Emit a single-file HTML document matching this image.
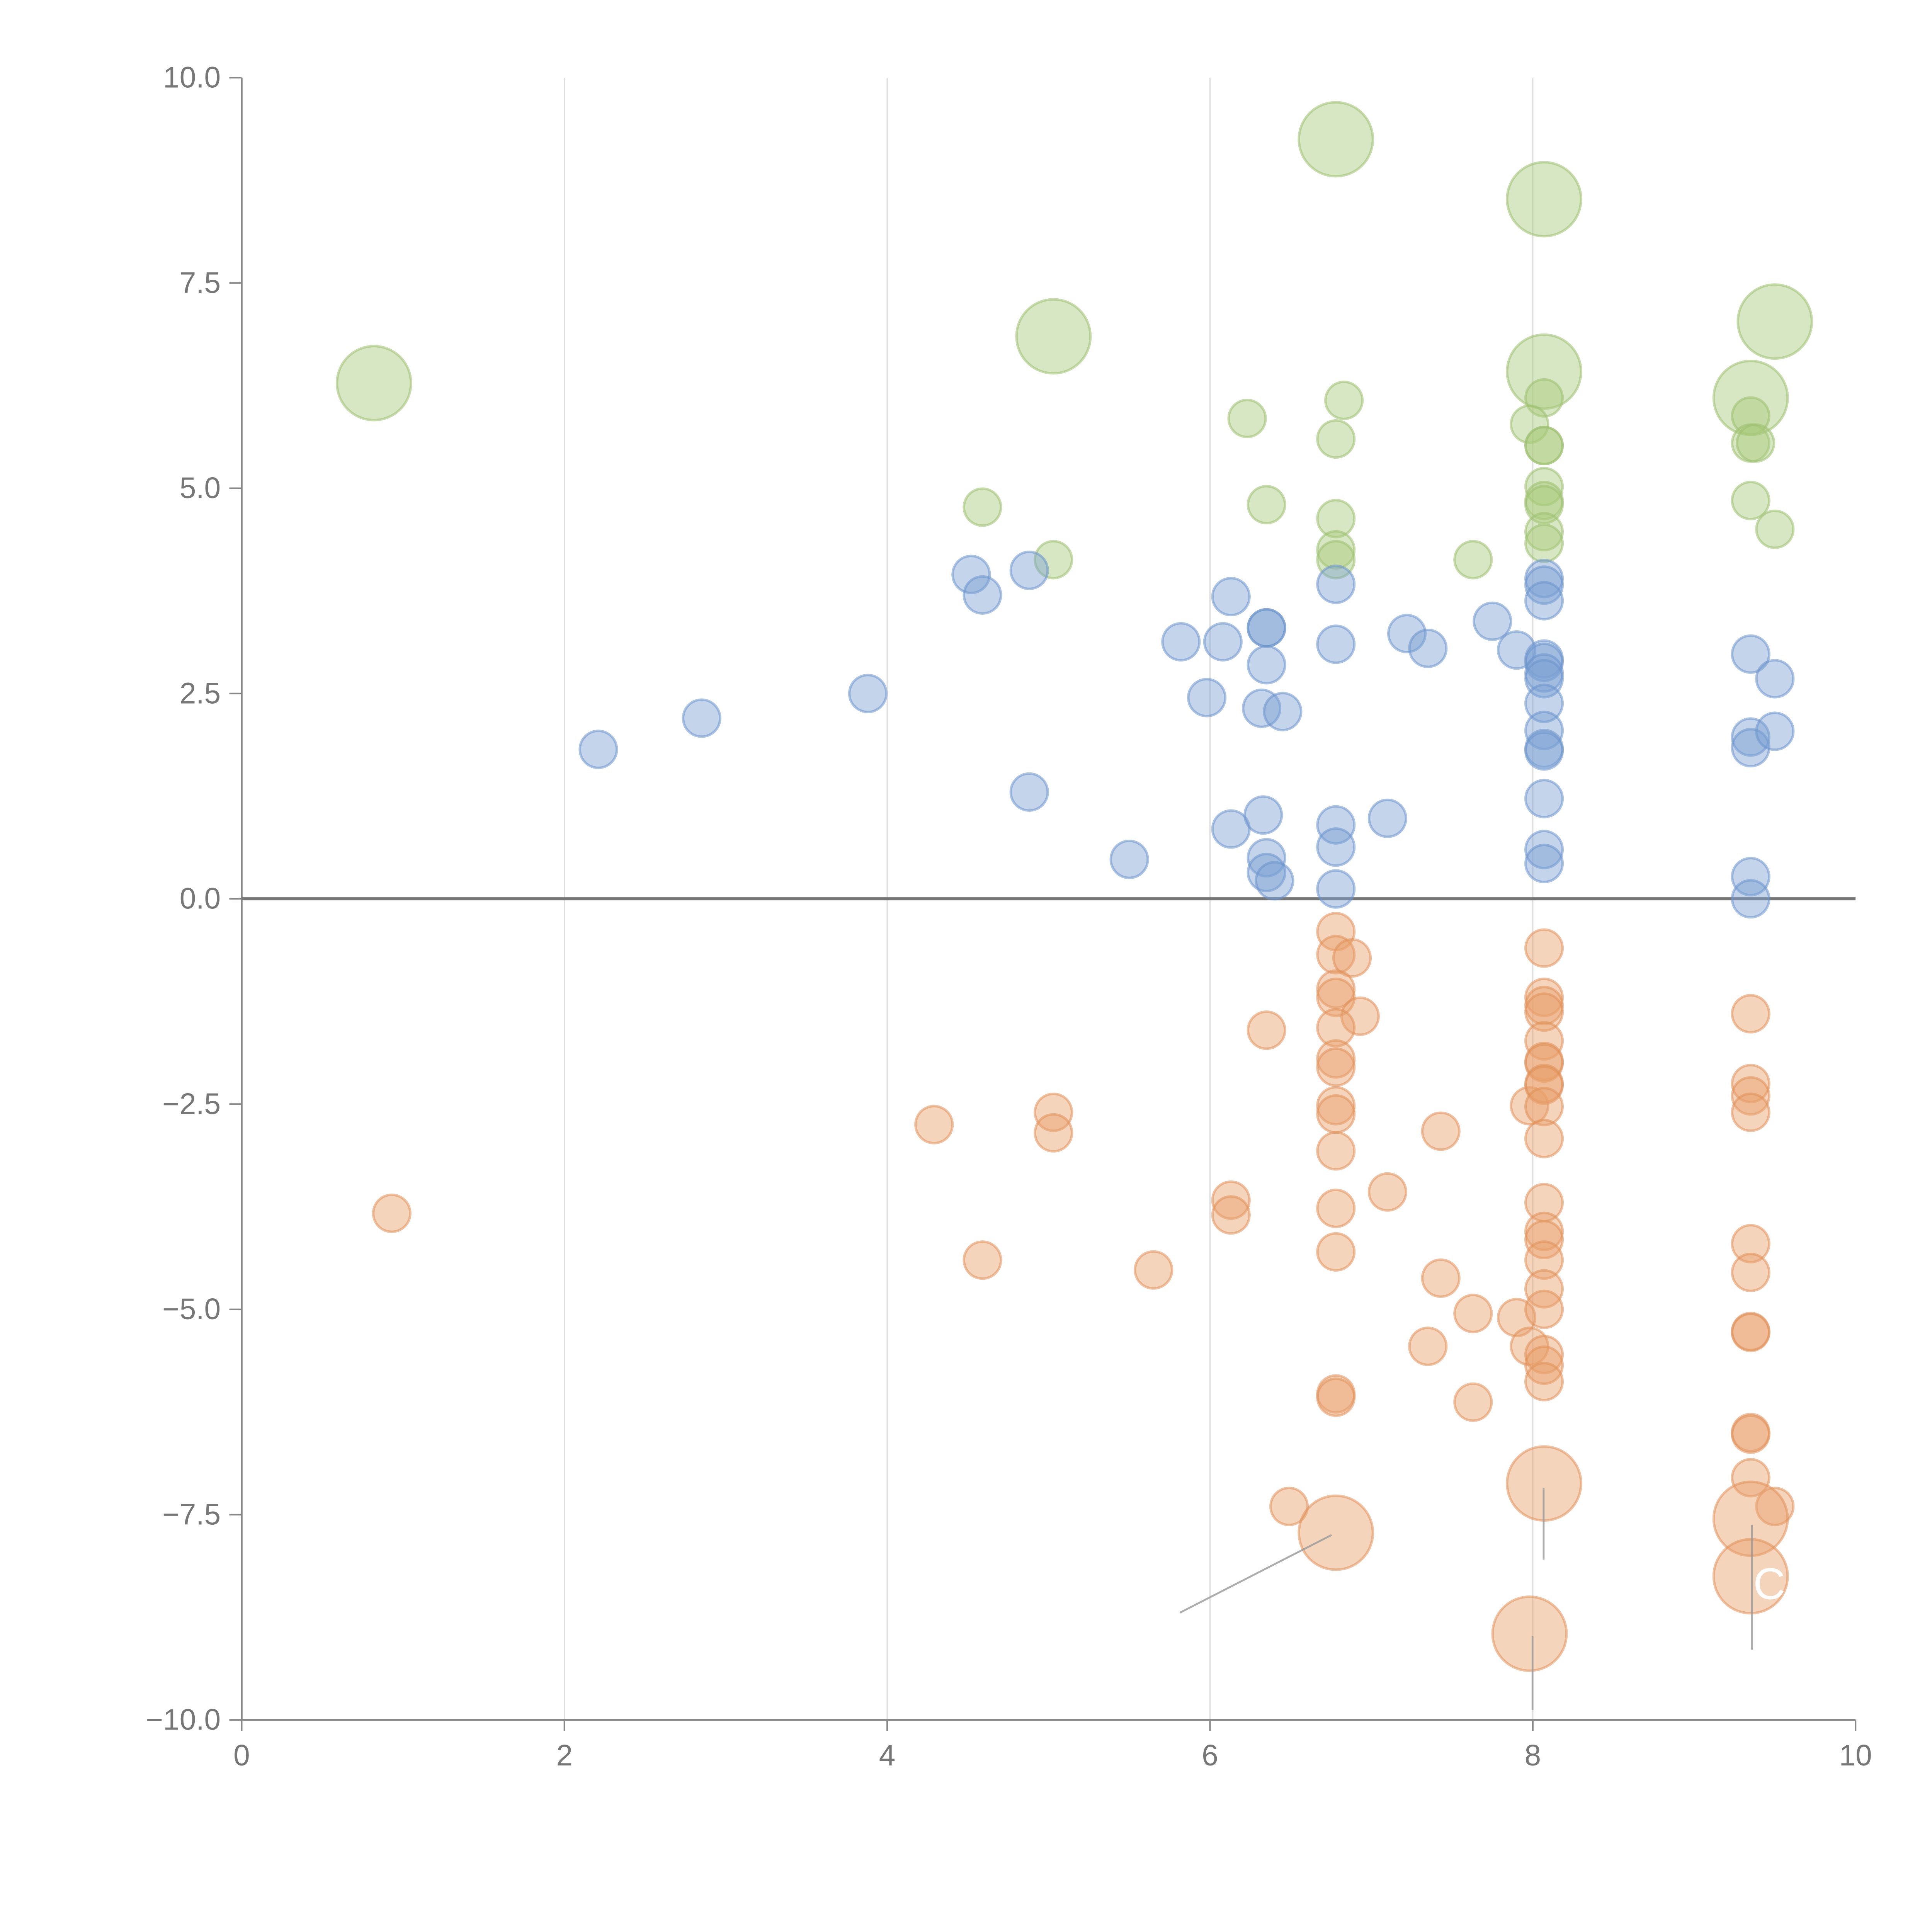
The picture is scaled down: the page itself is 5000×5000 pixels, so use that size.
<!DOCTYPE html>
<html><head><meta charset="utf-8"><style>
html,body{margin:0;padding:0;background:#fff;}
svg{display:block;}
text{font-family:"Liberation Sans",sans-serif;fill:#777;}
</style></head><body>
<svg id="chart" width="5000" height="5000" viewBox="0 0 1567 1567" xmlns="http://www.w3.org/2000/svg">
<g id="grid"></g>
<g id="axes"></g>
<g id="marks"></g>
<g id="annot"></g>
</svg>
<script>
const xTicks=[0,2,4,6,8,10];
const yTicks=[10,7.5,5,2.5,0,-2.5,-5,-7.5,-10];
const yTickLabels=["10.0","7.5","5.0","2.5","0.0","\u22122.5","\u22125.0","\u22127.5","\u221210.0"];
const greenX=[6.78,8.07,0.82,5.03,9.5,8.07,9.35,6.23,6.83,6.78,8.07,7.98,8.07,8.07,9.35,9.35,9.38,4.59,6.35,6.78,6.78,6.78,5.03,7.63,8.07,8.07,8.07,8.07,8.07,9.35,9.5];
const greenY=[9.25,8.52,6.28,6.85,7.03,6.42,6.1,5.85,6.07,5.6,6.1,5.78,5.52,5.52,5.88,5.55,5.55,4.77,4.8,4.63,4.25,4.13,4.13,4.13,5.02,4.85,4.8,4.47,4.33,4.85,4.5];
const greenS=[2,2,2,2,2,2,2,1,1,1,1,1,1,1,1,1,1,1,1,1,1,1,1,1,1,1,1,1,1,1,1];
const blueX=[2.21,2.85,3.88,4.52,4.59,4.88,4.88,5.5,5.82,5.98,6.08,6.13,6.13,6.35,6.35,6.35,6.32,6.45,6.33,6.35,6.35,6.4,6.78,6.78,6.78,6.78,6.78,7.1,7.22,7.35,7.75,7.9,8.07,8.07,8.07,8.07,8.07,8.07,8.07,8.07,8.07,8.07,8.07,8.07,8.07,8.07,9.35,9.5,9.35,9.35,9.5,9.35,9.35];
const blueY=[1.82,2.2,2.5,3.95,3.7,4.0,1.3,0.48,3.13,2.45,3.13,3.68,0.85,3.3,3.3,2.85,2.32,2.28,1.02,0.5,0.32,0.22,3.83,3.1,0.9,0.63,0.12,0.98,3.23,3.05,3.38,3.03,3.9,3.82,3.63,2.92,2.88,2.75,2.68,2.38,2.05,1.83,1.8,1.22,0.6,0.43,2.98,2.68,1.97,1.84,2.04,0.27,0.0];
const orangeX=[0.93,4.29,5.03,5.03,4.59,5.65,6.13,6.13,6.35,6.49,6.78,6.78,6.88,6.78,6.78,6.93,6.78,6.78,6.78,6.78,6.78,6.78,6.78,6.78,6.78,6.78,7.1,7.43,7.43,7.35,7.63,7.63,7.9,7.98,7.98,8.07,8.07,8.07,8.07,8.07,8.07,8.07,8.07,8.07,8.07,8.07,8.07,8.07,8.07,8.07,8.07,8.07,8.07,8.07,8.07,9.35,9.35,9.35,9.35,9.35,9.35,9.35,9.35,9.35,9.35,9.35,9.5,6.78,8.07,9.35,9.35,7.98];
const orangeY=[-3.83,-2.75,-2.6,-2.85,-4.4,-4.52,-3.67,-3.85,-1.6,-7.4,-0.4,-0.68,-0.72,-1.1,-1.2,-1.43,-1.57,-1.95,-2.05,-2.52,-2.62,-3.07,-3.77,-4.3,-6.03,-6.07,-3.57,-2.83,-4.62,-5.45,-5.05,-6.13,-5.1,-2.52,-5.45,-0.6,-1.2,-1.3,-1.38,-1.73,-1.98,-2.0,-2.25,-2.27,-2.53,-2.92,-3.7,-4.05,-4.15,-4.4,-4.75,-5.0,-5.55,-5.68,-5.88,-1.4,-2.25,-2.4,-2.6,-4.2,-4.55,-5.27,-5.28,-6.5,-6.52,-7.05,-7.4,-7.72,-7.12,-7.55,-8.25,-8.95];
const orangeS=orangeX.map((_,i)=>i>=67?2:1);

const NS="http://www.w3.org/2000/svg";
const X0=196,X1=1505,YT=63,YB=1395;
const sx=v=>X0+(v-0)/(10-0)*(X1-X0);
const sy=v=>YB-(v+10)/20*(YB-YT);
function mk(tag,attrs,parent){const e=document.createElementNS(NS,tag);for(const k in attrs)e.setAttribute(k,attrs[k]);parent.appendChild(e);return e;}
const grid=document.getElementById('grid'),axes=document.getElementById('axes'),marks=document.getElementById('marks'),annot=document.getElementById('annot');

xTicks.forEach(t=>{
  if(t>0&&t<10){const l=mk('line',{x1:sx(t),x2:sx(t),y1:sy(10),y2:sy(-10),stroke:'#ddd','stroke-width':1},grid);
  
  }
  const tk=mk('line',{x1:sx(t),x2:sx(t),y1:YB,y2:YB+9,stroke:'#888','stroke-width':1.3},axes);
  
  
  const tx=mk('text',{x:sx(t),y:YB+37,'text-anchor':'middle','font-size':24},axes);
  tx.textContent=String(t);
  
  
});
yTicks.forEach((t,i)=>{
  const tk=mk('line',{x1:X0-10,x2:X0,y1:sy(t),y2:sy(t),stroke:'#888','stroke-width':1.3},axes);
  
  
  const tx=mk('text',{x:X0-17,y:sy(t)+8,'text-anchor':'end','font-size':24},axes);
  tx.textContent=yTickLabels[i];
  
  
});
const ya=mk('line',{x1:X0,x2:X0,y1:YT,y2:YB,stroke:'#888','stroke-width':1.5},axes);


const xa=mk('line',{x1:X0,x2:X1,y1:YB,y2:YB,stroke:'#888','stroke-width':1.5},axes);



function series(xs,ys,ss,fill,stroke,name){
  xs.forEach((x,i)=>{
    const s=ss?ss[i]:1;
    const c=mk('circle',{cx:sx(x),cy:sy(ys[i]),r:s===2?30:15,fill:fill,'fill-opacity':0.45,stroke:stroke,'stroke-opacity':0.55,'stroke-width':2},marks);
    
    
  });
}
series(greenX,greenY,greenS,'#a9c97a','#9dc070','green-bubble');
series(blueX,blueY,null,'#7a9fd3','#6b93cc','blue-bubble');
series(orangeX,orangeY,orangeS,'#e8a06a','#e09058','orange-bubble');

const zl=mk('line',{x1:X0,x2:X1,y1:sy(0),y2:sy(0),stroke:'#777','stroke-width':2.5},axes);



[[957,1308,1080,1245],[1252,1207,1252,1265],[1421,1237,1421,1338],[1243,1327,1243,1387]].forEach(a=>{
  const l=mk('line',{x1:a[0],y1:a[1],x2:a[2],y2:a[3],stroke:'#999','stroke-opacity':0.8,'stroke-width':1.5},annot);
  
  
});
const c=mk('text',{x:1422,y:1297,'font-size':36,style:'fill:#fff'},annot);
c.textContent='C';


</script>
</body></html>
